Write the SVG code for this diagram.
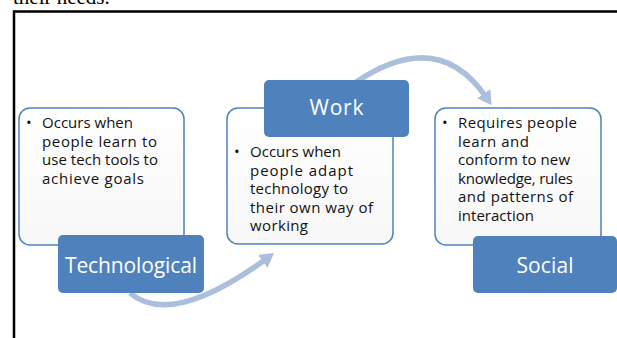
<svg xmlns="http://www.w3.org/2000/svg" width="617" height="338" viewBox="0 0 617 338">
<style>
.box{fill:#ffffff;stroke:#4f81bd;stroke-width:1.5}
.lbl{fill:#4f81bd}
.lt{font-family:"Open Sans","DejaVu Sans",sans-serif;font-size:21px;fill:#ffffff;text-anchor:middle}
.bt{font-family:"Open Sans","DejaVu Sans",sans-serif;font-size:15px;fill:#111111}
.arc{fill:none;stroke:#abbfdd;stroke-width:5.5}
</style>
<defs>
<marker id="ah" markerUnits="userSpaceOnUse" markerWidth="18" markerHeight="18" refX="4" refY="8" orient="auto">
<path d="M0,0 L14,8 L0,16 Z" fill="#abbfdd"/>
</marker>
<linearGradient id="bg" x1="0" y1="0" x2="0" y2="1">
<stop offset="0" stop-color="#ffffff"/>
<stop offset="1" stop-color="#f7f7f7"/>
</linearGradient>
</defs>
<rect x="0" y="0" width="617" height="338" fill="#ffffff"/>
<text x="13" y="4" font-family="Liberation Serif,serif" font-size="21" fill="#000">their needs.</text>
<rect x="14" y="11.5" width="620" height="340" fill="none" stroke="#000" stroke-width="2.5"/>
<g id="connectors">
<path class="arc" d="M130,293 Q171,328 266,259" marker-end="url(#ah)"/>
<path class="arc" d="M356,82 Q438,27 486,97" marker-end="url(#ah)"/>
</g>
<g id="technological">
<rect class="box" x="19" y="108" width="165" height="137" rx="11" style="fill:url(#bg)"/>
<text class="bt" x="26" y="128">•</text>
<text class="bt" x="42" y="128" textLength="91">Occurs when</text>
<text class="bt" x="42" y="146.5" textLength="115">people learn to</text>
<text class="bt" x="42" y="165" textLength="116">use tech tools to</text>
<text class="bt" x="42" y="183.5" textLength="102">achieve goals</text>
<rect class="lbl" x="58" y="235" width="146" height="58" rx="5"/>
<text class="lt" x="131" y="273" textLength="132">Technological</text>
</g>
<g id="work">
<rect class="box" x="227" y="108" width="166" height="136" rx="11" style="fill:url(#bg)"/>
<text class="bt" x="234" y="157">•</text>
<text class="bt" x="250" y="157" textLength="91">Occurs when</text>
<text class="bt" x="250" y="175.5" textLength="103">people adapt</text>
<text class="bt" x="250" y="194" textLength="98">technology to</text>
<text class="bt" x="250" y="212.5" textLength="123">their own way of</text>
<text class="bt" x="250" y="231" textLength="58">working</text>
<rect class="lbl" x="264" y="80" width="145" height="57" rx="5"/>
<text class="lt" x="336.5" y="115" textLength="54">Work</text>
</g>
<g id="social">
<rect class="box" x="435" y="108" width="166" height="137" rx="11" style="fill:url(#bg)"/>
<text class="bt" x="442" y="128">•</text>
<text class="bt" x="458" y="128" textLength="119">Requires people</text>
<text class="bt" x="458" y="146.5" textLength="71">learn and</text>
<text class="bt" x="458" y="165" textLength="112">conform to new</text>
<text class="bt" x="458" y="183.5" textLength="115">knowledge, rules</text>
<text class="bt" x="458" y="202" textLength="115">and patterns of</text>
<text class="bt" x="458" y="220.5" textLength="76">interaction</text>
<rect class="lbl" x="473" y="236" width="144" height="57" rx="5"/>
<text class="lt" x="545" y="273" textLength="57">Social</text>
</g>
</svg>
